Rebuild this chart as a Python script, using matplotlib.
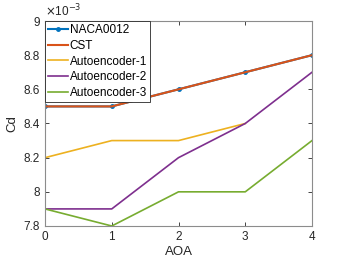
import matplotlib.pyplot as plt
from matplotlib.ticker import FuncFormatter

plt.rcParams['font.family'] = ['Liberation Sans', 'DejaVu Sans']

# valores (Cd x 1e-3)
aoa = [0, 1, 2, 3, 4]
naca = [8.5, 8.5, 8.6, 8.7, 8.8]
cst = [8.5, 8.5, 8.6, 8.7, 8.8]
aoa1 = [0, 1, 2, 3]
ae1 = [8.2, 8.3, 8.3, 8.4]
ae2 = [7.9, 7.9, 8.2, 8.4, 8.7]
ae3 = [7.9, 7.8, 8.0, 8.0, 8.3]

fig = plt.figure(figsize=(3.45, 2.67), dpi=100)
ax = fig.add_axes([45/345, 1 - 226/267, 267/345, 205/267])

ax.plot(aoa, naca, '.-', color='#0072BD', lw=1.5, ms=5, label='NACA0012')
ax.plot(aoa, cst, '-', color='#D95319', lw=1.5, label='CST')
ax.plot(aoa1, ae1, '-', color='#EDB120', lw=1.2, label='Autoencoder-1')
ax.plot(aoa, ae2, '-', color='#7E2F8E', lw=1.2, label='Autoencoder-2')
ax.plot(aoa, ae3, '-', color='#77AC30', lw=1.2, label='Autoencoder-3')

ax.set_xlim(0, 4)
ax.set_ylim(7.8, 9.0)
ax.set_xticks([0, 1, 2, 3, 4])
ax.set_yticks([7.8, 8.0, 8.2, 8.4, 8.6, 8.8, 9.0])
ax.yaxis.set_major_formatter(FuncFormatter(lambda v, p: '%g' % round(v, 2)))
ax.tick_params(direction='in', top=True, right=True, length=3, labelsize=8.5,
               colors='#262626', width=0.6)
for s in ax.spines.values():
    s.set_color('#8c8c8c')
    s.set_linewidth(0.8)
ax.set_xlabel('AOA', fontsize=9.5, color='#262626', labelpad=2)
ax.set_ylabel('Cd', fontsize=9.5, color='#262626', labelpad=4)
ax.text(0, 1.01, r'$\times$10$^{-3}$', transform=ax.transAxes, fontsize=8.5,
        color='#262626', va='bottom', ha='left')

leg = ax.legend(loc='upper left', bbox_to_anchor=(0, 1), fontsize=8.5,
                fancybox=False, framealpha=1, edgecolor='#262626',
                borderpad=0.25, labelspacing=0.32, handlelength=1.7,
                handletextpad=0.15, borderaxespad=0)
leg.get_frame().set_linewidth(0.6)

fig.savefig('out.png', dpi=100)
